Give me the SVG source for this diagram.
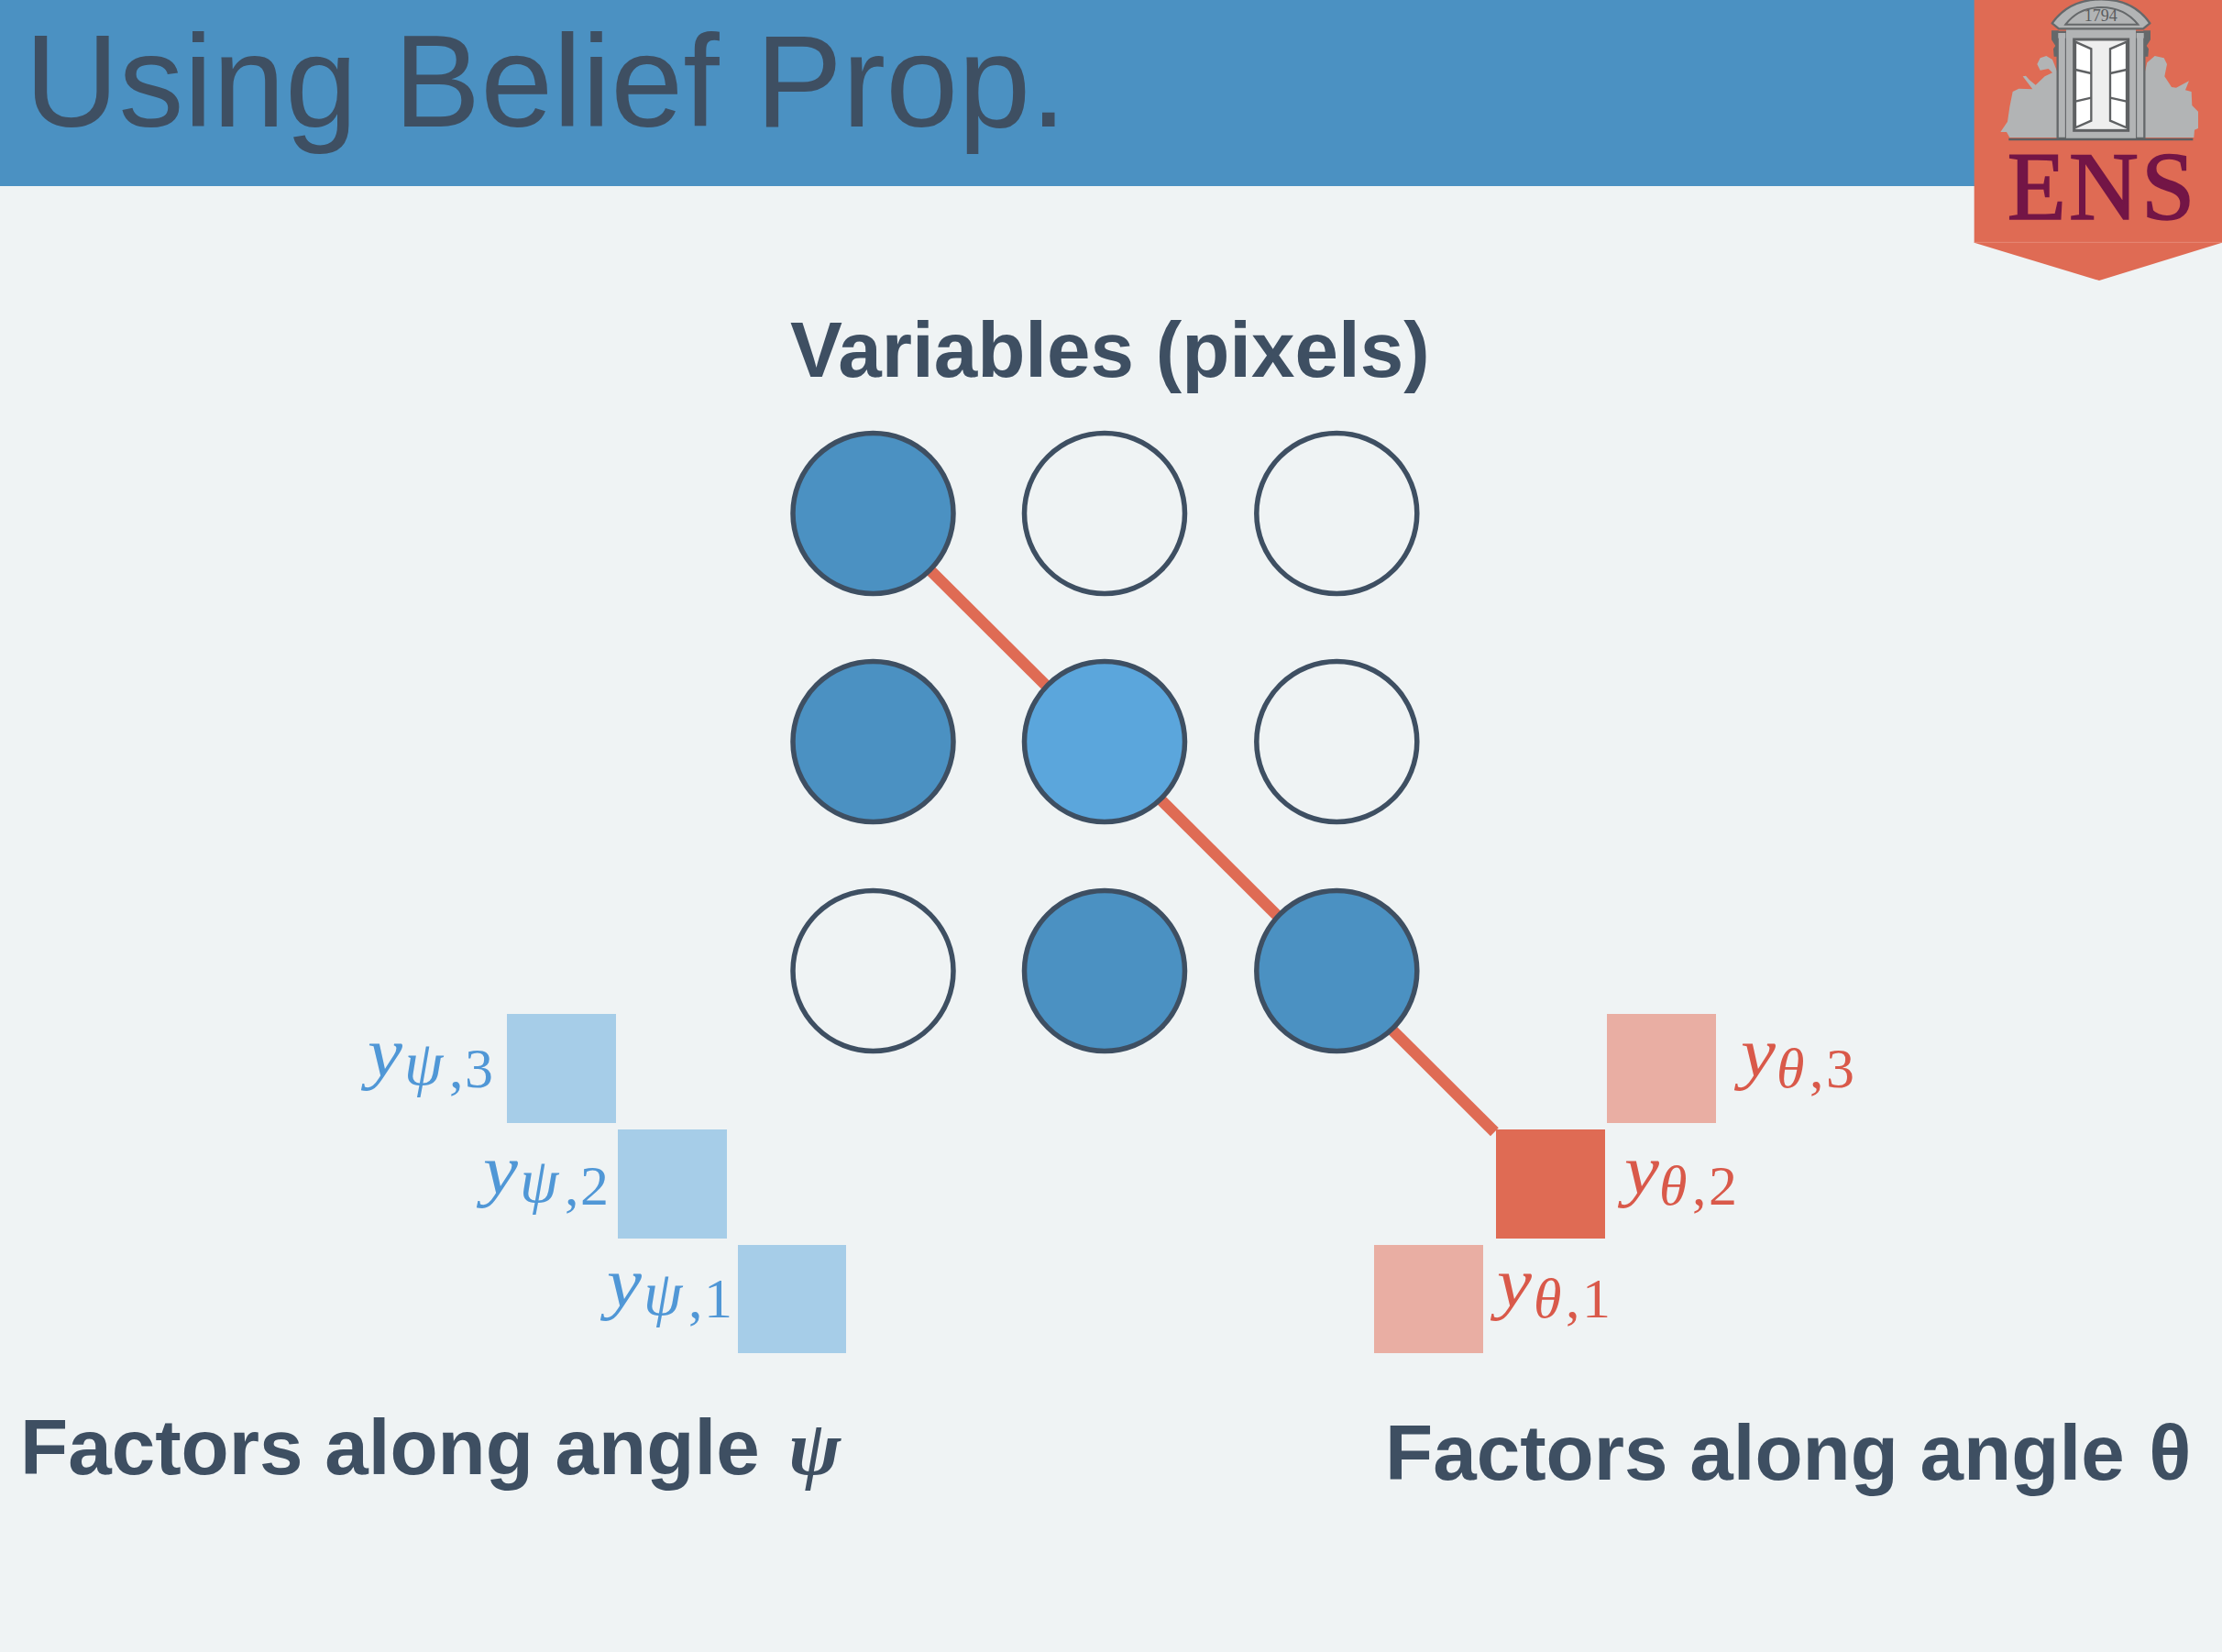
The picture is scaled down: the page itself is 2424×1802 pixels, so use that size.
<svg xmlns="http://www.w3.org/2000/svg" width="2424" height="1802" viewBox="0 0 2424 1802">
<style>
.ttl{font-family:"Liberation Sans",Arial,sans-serif;fill:#3e4f62}
.hd{font-family:"Liberation Sans",Arial,sans-serif;font-weight:700;font-size:85.4px;fill:#3e4f62}
.var{stroke:#3e4f62;stroke-width:5.5}
.on{fill:#4b91c2}.act{fill:#5ba6dc}.off{fill:#eff3f4}
.m{font-family:"Liberation Serif","Times New Roman",serif;font-size:62px}
.v{font-style:italic;font-size:76px}
.s{font-style:italic;font-size:68px}
.t{font-style:italic;font-size:62px}
.b{fill:#5097d6}.r{fill:#d9594a}
.lb{fill:#a6cde8}.lr{fill:#e9aea3}.dr{fill:#df6b54}
.lg{fill:#b2b4b5}.ls{stroke:#65686a;stroke-width:7;stroke-linejoin:round}
</style>
<rect id="background" width="2424" height="1802" fill="#eff3f4"/>
<g id="header">
<rect width="2424" height="203" fill="#4b91c2"/>
<text class="ttl" x="27" y="138" font-size="142">Using Belief Prop.</text>
</g>
<g id="logo" transform="translate(2124 0) scale(.33333)">
<path d="M89,0H900V794L498,918L89,794Z" fill="#df6b54"/>
<path d="M89,793H900" stroke="#eb9987" stroke-width="2"/>
<path class="lg" d="M175,432L198,398L205,350L215,300L235,290L280,292L248,250L258,248L270,262L290,278L320,250L345,238L332,225L305,230L295,210L305,190L325,183L345,195L362,238V450H205L195,432Z"/>
<path class="lg" d="M648,235L655,205L680,183L710,190L720,210L712,250L735,285L750,287L792,265L780,295L800,300L802,345L822,365V420L810,425L808,450H648Z"/>
<path d="M342,100H365V185H350L348,160L355,150L342,130Z M666,100H643V185H658L660,160L653,150L666,130Z" fill="#65686a"/>
<rect class="lg ls" x="362" y="105" width="28" height="348"/>
<rect class="lg ls" x="618" y="105" width="28" height="348"/>
<rect class="lg" x="364" y="108" width="24" height="17"/>
<rect class="lg" x="620" y="108" width="24" height="17"/>
<rect class="lg" x="390" y="96" width="228" height="357"/>
<rect x="416" y="129" width="177" height="298" fill="#eeeeee" stroke="#5f6163" stroke-width="9"/>
<path d="M420,137L472,160V395L420,418Z M588,137L534,160V395L588,418Z" fill="#fff" stroke="#5f6163" stroke-width="7"/>
<path d="M420,228L472,240M420,332L472,320M588,228L534,240M588,332L534,320" stroke="#5f6163" stroke-width="7" fill="none"/>
<path class="lg ls" d="M344,76Q400,-2 505,-2Q610,-2 664,76L642,94H366Z"/>
<path d="M388,80Q430,24 505,24Q580,24 625,80Z" fill="#b2b4b5" stroke="#65686a" stroke-width="6"/>
<text x="503" y="68" text-anchor="middle" font-family="Liberation Serif,serif" font-size="54" fill="#5a5c5e">1794</text>
<path d="M202,456H805" stroke="#5c5f62" stroke-width="7"/>
<text x="197" y="718" font-family="Liberation Serif,serif" font-size="315" letter-spacing="9.5" fill="#731546" stroke="#731546" stroke-width="5">ENS</text>
</g>
<g id="connectors">
<path d="M952.5,560L1630.4,1234.7" stroke="#df6b54" stroke-width="12.5" fill="none"/>
</g>
<g id="heading-variables"><text class="hd" x="862" y="411">Variables (pixels)</text></g>
<g id="var-1-1"><circle class="var on" cx="952.5" cy="560" r="87.5"/></g>
<g id="var-1-2"><circle class="var off" cx="1205" cy="560" r="87.5"/></g>
<g id="var-1-3"><circle class="var off" cx="1458.3" cy="560" r="87.5"/></g>
<g id="var-2-1"><circle class="var on" cx="952.5" cy="809" r="87.5"/></g>
<g id="var-2-2"><circle class="var act" cx="1205" cy="809" r="87.5"/></g>
<g id="var-2-3"><circle class="var off" cx="1458.3" cy="809" r="87.5"/></g>
<g id="var-3-1"><circle class="var off" cx="952.5" cy="1059" r="87.5"/></g>
<g id="var-3-2"><circle class="var on" cx="1205" cy="1059" r="87.5"/></g>
<g id="var-3-3"><circle class="var on" cx="1458.3" cy="1059" r="87.5"/></g>
<g id="factor-psi-3"><rect class="lb" x="553" y="1106" width="119" height="119"/>
<text class="m b v" x="401" y="1174" textLength="38" lengthAdjust="spacingAndGlyphs">y</text>
<text class="m b"><tspan class="s" x="441" y="1183">ψ</tspan><tspan x="490" y="1186">,</tspan><tspan x="507" y="1186">3</tspan></text></g>
<g id="factor-psi-2"><rect class="lb" x="674" y="1232" width="119" height="119"/>
<text class="m b v" x="527" y="1302" textLength="38" lengthAdjust="spacingAndGlyphs">y</text>
<text class="m b"><tspan class="s" x="567" y="1311">ψ</tspan><tspan x="616" y="1314">,</tspan><tspan x="633" y="1314">2</tspan></text></g>
<g id="factor-psi-1"><rect class="lb" x="805" y="1358" width="118" height="118"/>
<text class="m b v" x="662" y="1425" textLength="38" lengthAdjust="spacingAndGlyphs">y</text>
<text class="m b"><tspan class="s" x="702" y="1434">ψ</tspan><tspan x="751" y="1437">,</tspan><tspan x="768" y="1437">1</tspan></text></g>
<g id="factor-theta-3"><rect class="lr" x="1753" y="1106" width="119" height="119"/>
<text class="m r v" x="1899" y="1174" textLength="38" lengthAdjust="spacingAndGlyphs">y</text>
<text class="m r"><tspan class="t" x="1938" y="1186">θ</tspan><tspan x="1974" y="1186">,</tspan><tspan x="1992" y="1186">3</tspan></text></g>
<g id="factor-theta-2"><rect class="dr" x="1632" y="1232" width="119" height="119"/>
<text class="m r v" x="1772" y="1302" textLength="38" lengthAdjust="spacingAndGlyphs">y</text>
<text class="m r"><tspan class="t" x="1810" y="1314">θ</tspan><tspan x="1846" y="1314">,</tspan><tspan x="1864" y="1314">2</tspan></text></g>
<g id="factor-theta-1"><rect class="lr" x="1499" y="1358" width="119" height="118"/>
<text class="m r v" x="1633" y="1425" textLength="38" lengthAdjust="spacingAndGlyphs">y</text>
<text class="m r"><tspan class="t" x="1673" y="1437">θ</tspan><tspan x="1708" y="1437">,</tspan><tspan x="1726" y="1437">1</tspan></text></g>
<g id="heading-psi"><text class="hd" x="22" y="1608">Factors along angle <tspan font-family="Liberation Serif,serif" font-style="italic" dx="8">ψ</tspan></text></g>
<g id="heading-theta"><text class="hd" x="1511" y="1614">Factors along angle <tspan dx="3">θ</tspan></text></g>
</svg>
